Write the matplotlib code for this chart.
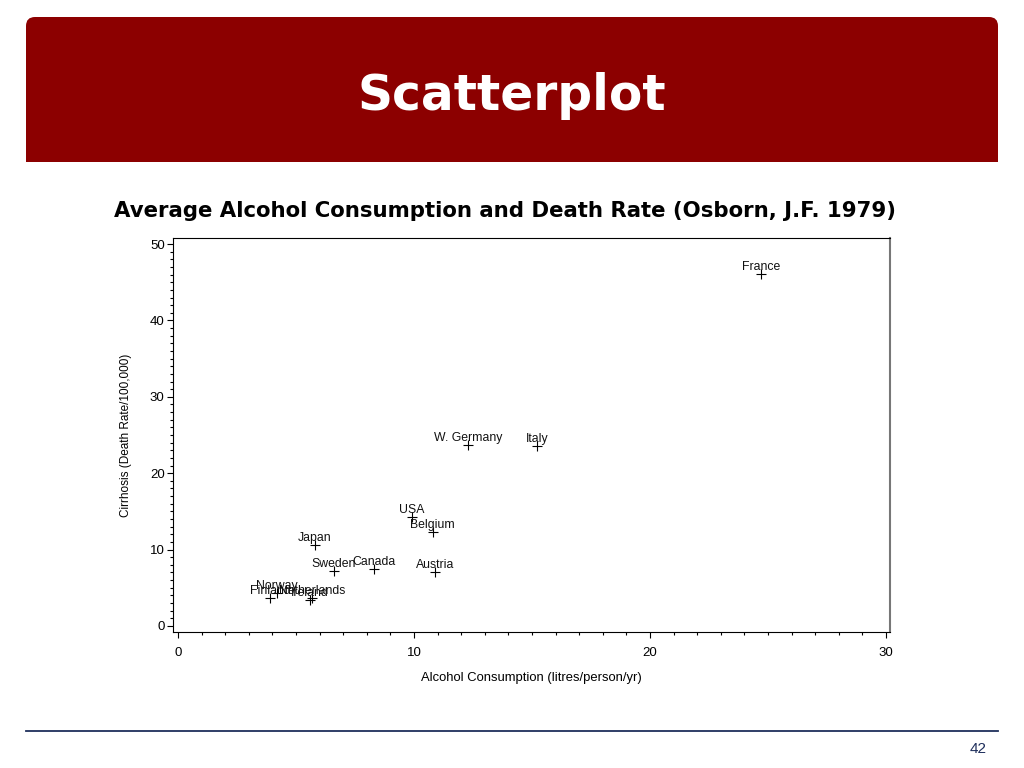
import matplotlib
matplotlib.use("Agg")
import matplotlib.pyplot as plt
from matplotlib.patches import FancyBboxPatch, Rectangle
from matplotlib.ticker import MultipleLocator

# Osborn (1979) data
countries = ["France", "Italy", "W. Germany", "Austria", "Belgium", "USA",
             "Canada", "Sweden", "Japan", "Netherlands", "Ireland",
             "Norway", "Finland"]
alcohol = [24.7, 15.2, 12.3, 10.9, 10.8, 9.9, 8.3, 6.6, 5.8, 5.7, 5.6, 4.2, 3.9]
cirrhosis = [46.1, 23.6, 23.7, 7.0, 12.3, 14.2, 7.4, 7.2, 10.6, 3.7, 3.4, 4.3, 3.6]

slide_title = "Scatterplot"
chart_title = "Average Alcohol Consumption and Death Rate (Osborn, J.F. 1979)"
page_no = "42"

font = "Liberation Sans"
bold_font = "DejaVu Sans"
red = "#8c0000"
navy = "#1f2f5c"

fig = plt.figure(figsize=(10.24, 7.68), dpi=100)

# slide background in pixel coordinates
bg = fig.add_axes([0, 0, 1, 1])
bg.set_xlim(0, 1024)
bg.set_ylim(768, 0)
bg.axis("off")
bg.add_patch(FancyBboxPatch((26, 17), 972, 145, boxstyle="round,pad=0,rounding_size=9",
                            fc=red, ec="none"))
bg.add_patch(Rectangle((26, 120), 972, 42, fc=red, ec="none"))
bg.text(512, 96, slide_title, color="white", fontsize=35, fontweight="bold",
        family=bold_font, ha="center", va="center")
bg.plot([26, 998], [731, 731], color=navy, lw=1.3)
bg.text(978, 749, page_no, color=navy, fontsize=11, family=font,
        ha="center", va="center")
bg.text(505, 211, chart_title, fontsize=15.3, fontweight="bold", family=bold_font,
        ha="center", va="center")

# the scatter plot
ax = fig.add_axes([173 / 1024, 1 - 632 / 768, 717 / 1024, 394 / 768])
ax.plot(alcohol, cirrhosis, "+", color="black", ms=7, mew=0.8)
for name, x, y in zip(countries, alcohol, cirrhosis):
    ax.annotate(name, (x, y), xytext=(0, 3), textcoords="offset points",
                ha="center", va="baseline", fontsize=8.8, family=font,
                color="#111111")

ax.set_xlim(-0.21, 30.17)
ax.set_ylim(-0.79, 50.79)
ax.xaxis.set_major_locator(MultipleLocator(10))
ax.xaxis.set_minor_locator(MultipleLocator(1))
ax.yaxis.set_major_locator(MultipleLocator(10))
ax.yaxis.set_minor_locator(MultipleLocator(1))
ax.tick_params(which="major", direction="out", length=4, width=0.8, labelsize=9.5)
ax.tick_params(which="minor", direction="out", length=2.5, width=0.8)
ax.tick_params(axis="x", which="major", pad=7)
ax.tick_params(axis="y", which="major", pad=2)
for lbl in ax.get_xticklabels() + ax.get_yticklabels():
    lbl.set_family(font)
ax.spines["right"].set_color("#777777")
ax.spines["right"].set_linewidth(1.5)
for s in ["left", "top", "bottom"]:
    ax.spines[s].set_linewidth(0.8)

ax.set_xlabel("Alcohol Consumption (litres/person/yr)", fontsize=9.4, family=font,
              labelpad=9)
ax.set_ylabel("Cirrhosis (Death Rate/100,000)", fontsize=8.5, family=font,
              labelpad=13)

fig.savefig("out.png", dpi=100)
